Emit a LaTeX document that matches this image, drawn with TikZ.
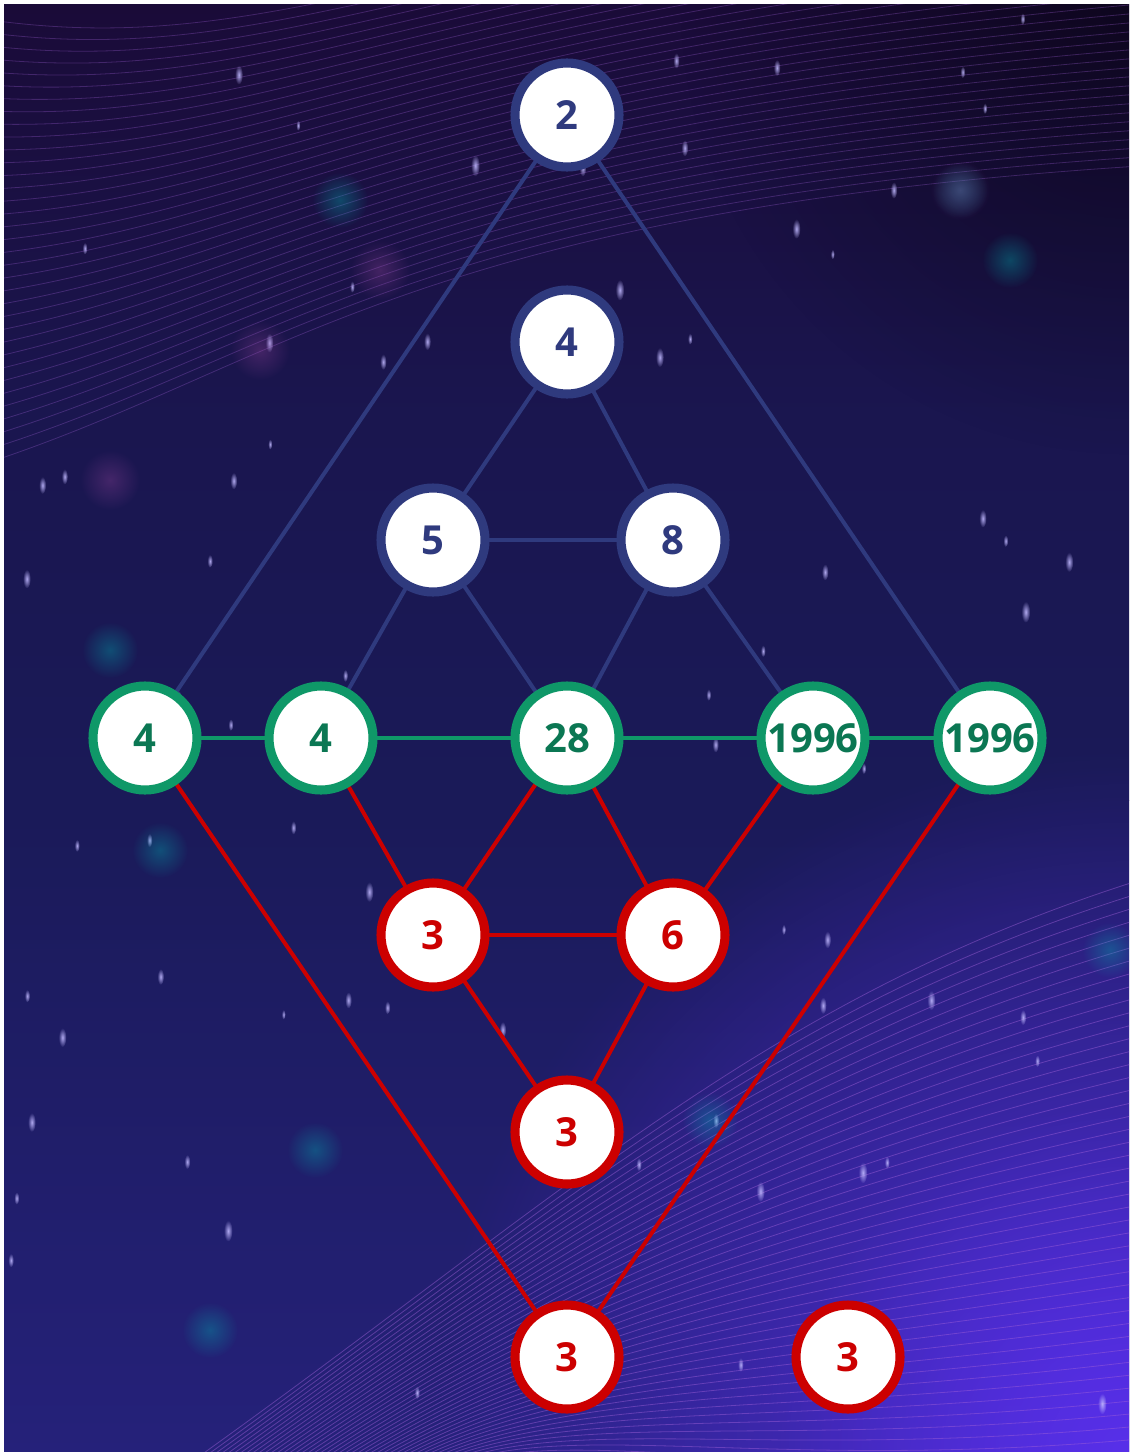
\documentclass[tikz,border=0pt]{standalone}
\usepackage{fontspec}
\setmainfont{Open Sans}
\usetikzlibrary{fadings}
\definecolor{bgA}{HTML}{1A0B38}
\definecolor{bgB}{HTML}{1A1A58}
\definecolor{bgC}{HTML}{25217A}
\definecolor{bgD}{HTML}{5A30EE}
\definecolor{bluec}{HTML}{2F3A7E}
\definecolor{greenring}{HTML}{0F9868}
\definecolor{greentext}{HTML}{0B7753}
\definecolor{redc}{HTML}{CC0000}
\definecolor{wave}{HTML}{A060D8}
\definecolor{star}{HTML}{C0B8FF}
\tikzfading[name=glow, inner color=transparent!0, outer color=transparent!100]
\pgfdeclarelayer{bg}
\pgfdeclarelayer{edges}
\pgfsetlayers{bg,edges,main}
\tikzset{
  num/.style={circle, fill=white, line width=6.8pt, minimum size=78pt, inner sep=0pt, font=\bfseries\fontsize{30}{30}\selectfont},
  bnode/.style={num, draw=bluec, text=bluec},
  gnode/.style={num, draw=greenring, text=greentext},
  rnode/.style={num, draw=redc, text=redc},
  bedge/.style={draw=bluec, line width=3pt},
  gedge/.style={draw=greenring, line width=3.5pt},
  redge/.style={draw=redc, line width=3pt},
}
\begin{document}
\begin{tikzpicture}[x=0.75pt,y=-0.75pt]
\useasboundingbox (0,0) rectangle (1129,1452);
\begin{pgfonlayer}{bg}
\fill[white] (0,0) rectangle (1129,1452);
\begin{scope}
\clip (4,5) rectangle (1129,1452);
\shade[top color=bgA, bottom color=bgB, middle color=bgB!70!bgA] (4,5) rectangle (1129,800);
\shade[top color=bgB, bottom color=bgC] (4,800) rectangle (1129,1452);
\fill[bgD, opacity=0.9, path fading=glow] (1129,1452) circle (700);
\fill[bgD, opacity=0.6, path fading=glow] (1129,1452) circle (350);
\fill[black, opacity=0.45, path fading=glow] (1129,5) circle (450);
% wave families
\foreach \i in {0,...,34} {
  \draw[wave, opacity=0.3, line width=0.6pt]
    (-10,{20+13*\i}) .. controls (280,{60+9*\i}) and (420,{-60+8*\i}) .. (1140,{-140+9*\i});
}
\foreach \i in {0,...,46} {
  \draw[wave, opacity=0.45, line width=0.6pt]
    ({180+6*\i},1470) .. controls (560,{1200+5*\i}) and (760,{1000+11*\i}) .. (1140,{880+13*\i});
}
% stars
\pgfmathsetseed{11}
\foreach \k in {1,...,75} {
  \pgfmathsetmacro\sx{10+rnd*1110}
  \pgfmathsetmacro\sy{10+rnd*1430}
  \pgfmathsetmacro\sr{2+rnd*2.5}
  \fill[star, opacity=0.9, path fading=glow] (\sx,\sy) ellipse ({\sr} and {\sr*2.4});
}
\foreach \p in {(340,200),(1010,260),(210,1330),(110,650),(960,190),(1110,950),(315,1150),(160,850),(710,1120)} {
  \fill[teal!60!cyan, opacity=0.35, path fading=glow] \p circle (28);
}
\foreach \p in {(960,190),(380,270),(110,480),(260,350)} {
  \fill[violet!70!white, opacity=0.3, path fading=glow] \p circle (30);
}
\end{scope}
\end{pgfonlayer}

% nodes
\node[bnode] (n2) at (567,115) {2};
\node[bnode] (n4t) at (567,342) {4};
\node[bnode] (n5) at (433,540) {5};
\node[bnode] (n8) at (673,540) {8};
\node[gnode] (g1) at (145,738) {4};
\node[gnode] (g2) at (321,738) {4};
\node[gnode] (g3) at (567,738) {28};
\node[gnode] (g4) at (813,738) {1996};
\node[gnode] (g5) at (990,738) {1996};
\node[rnode] (r1) at (433,935) {3};
\node[rnode] (r2) at (673,935) {6};
\node[rnode] (r3) at (567,1132) {3};
\node[rnode] (r4) at (567,1357) {3};
\node[rnode] (r5) at (848,1357) {3};

\begin{pgfonlayer}{edges}
\draw[bedge] (n2.center) -- (g1.center);
\draw[bedge] (n2.center) -- (g5.center);
\draw[bedge] (n4t.center) -- (n5.center);
\draw[bedge] (n4t.center) -- (n8.center);
\draw[bedge] (n5.center) -- (n8.center);
\draw[bedge] (n5.center) -- (g2.center);
\draw[bedge] (n5.center) -- (g3.center);
\draw[bedge] (n8.center) -- (g3.center);
\draw[bedge] (n8.center) -- (g4.center);
\draw[gedge] (g1.center) -- (g2.center) -- (g3.center) -- (g4.center) -- (g5.center);
\draw[redge] (g1.center) -- (r4.center);
\draw[redge] (g5.center) -- (r4.center);
\draw[redge] (g2.center) -- (r1.center);
\draw[redge] (g3.center) -- (r1.center);
\draw[redge] (g3.center) -- (r2.center);
\draw[redge] (g4.center) -- (r2.center);
\draw[redge] (r1.center) -- (r2.center);
\draw[redge] (r1.center) -- (r3.center);
\draw[redge] (r2.center) -- (r3.center);
\end{pgfonlayer}
\end{tikzpicture}
\end{document}
